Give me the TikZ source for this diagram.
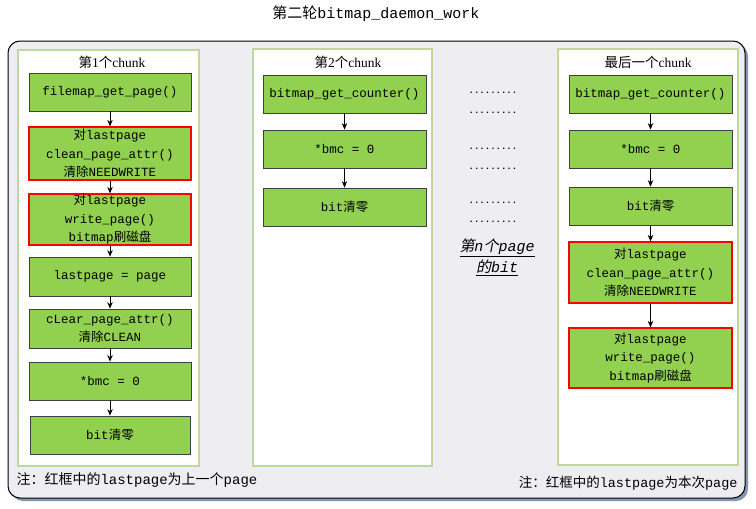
\documentclass[tikz,border=0pt]{standalone}
\usepackage{fontspec}
\setmainfont{Liberation Serif}
\setmonofont{Liberation Mono}
\newfontfamily\cjk{Noto Sans CJK SC}
\newfontfamily\cjkslant{Noto Sans CJK SC}[FakeSlant=0.2]
\newcommand{\zh}[1]{{\cjk #1}}
\usetikzlibrary{arrows.meta, positioning}

\definecolor{boxgreen}{HTML}{92D050}
\definecolor{panelline}{HTML}{C3D69B}
\definecolor{outerfill}{HTML}{EEEEF2}
\definecolor{shadowblue}{HTML}{8496B0}

\tikzset{
  opbox/.style={draw=black!75, fill=boxgreen, line width=0.8pt, minimum width=162pt,
    inner sep=0pt, align=center, font=\fontsize{12.5}{18.5}\selectfont\ttfamily},
  lastbox/.style={opbox, draw=red, line width=1.3pt},
  panel/.style={draw=panelline, line width=1.3pt, fill=white, inner sep=0pt},
  flow/.style={-{Stealth[length=6.5pt,width=5.5pt]}, line width=0.9pt},
  dotrow/.style={font=\fontsize{9}{9}\selectfont\ttfamily\bfseries},
}

\begin{document}
\begin{tikzpicture}[x=1pt,y=-1pt]
\useasboundingbox (0,0) rectangle (756,509);
\node[font=\fontsize{15}{15}\selectfont\ttfamily] (title) at (376,14) {\zh{第二轮}bitmap\_daemon\_work};

% outer frame
\fill[shadowblue, rounded corners=12pt] (11,44) rectangle (748,501);
\draw[fill=outerfill, line width=1pt, rounded corners=12pt] (8,41) rectangle (745,498);

% chunk panels
\node[panel, minimum width=181pt, minimum height=416pt] (p1) at (108.5,258) {};
\node[panel, minimum width=179pt, minimum height=417pt] (p2) at (342.5,257.5) {};
\node[panel, minimum width=180pt, minimum height=416pt] (p3) at (648,257) {};
\node[font=\fontsize{13.5}{13.5}\selectfont] (t1) at (112,62) {\zh{第}1\zh{个}chunk};
\node[font=\fontsize{13.5}{13.5}\selectfont] (t2) at (348,62) {\zh{第}2\zh{个}chunk};
\node[font=\fontsize{13.5}{13.5}\selectfont] (t3) at (648,62) {\zh{最后一个}chunk};

% first chunk
\node[opbox, minimum height=38pt] (c1a) at (110,92) {filemap\_get\_page()};
\node[lastbox, minimum height=53pt] (c1b) at (110,153.5) {\zh{对}lastpage\\clean\_page\_attr()\\\zh{清除}NEEDWRITE};
\node[lastbox, minimum height=51pt] (c1c) at (110,219.5) {\zh{对}lastpage\\write\_page()\\bitmap\zh{刷磁盘}};
\node[opbox, minimum height=39pt] (c1d) at (110,276.5) {lastpage = page};
\node[opbox, minimum height=39pt] (c1e) at (110,328.5) {cLear\_page\_attr()\\\zh{清除}CLEAN};
\node[opbox, minimum height=38pt] (c1f) at (110,381) {*bmc = 0};
\node[opbox, minimum height=38pt, minimum width=160pt] (c1g) at (110,435) {bit\zh{清零}};

% second chunk
\node[opbox, minimum width=163pt, minimum height=38pt] (c2a) at (344.5,94) {bitmap\_get\_counter()};
\node[opbox, minimum width=163pt, minimum height=38pt] (c2b) at (344.5,149) {*bmc = 0};
\node[opbox, minimum width=163pt, minimum height=38pt] (c2c) at (344.5,207) {bit\zh{清零}};

% last chunk
\node[opbox, minimum width=163pt, minimum height=38pt] (c3a) at (650.5,94.5) {bitmap\_get\_counter()};
\node[opbox, minimum width=163pt, minimum height=38pt] (c3b) at (650.5,149) {*bmc = 0};
\node[opbox, minimum width=163pt, minimum height=38pt] (c3c) at (650.5,206) {bit\zh{清零}};
\node[lastbox, minimum width=163pt, minimum height=61pt] (c3d) at (650.5,272.5) {\zh{对}lastpage\\clean\_page\_attr()\\\zh{清除}NEEDWRITE};
\node[lastbox, minimum width=163pt, minimum height=60pt] (c3e) at (650.5,358) {\zh{对}lastpage\\write\_page()\\bitmap\zh{刷磁盘}};

\foreach \a/\b in {c1a/c1b, c1b/c1c, c1c/c1d, c1d/c1e, c1e/c1f, c1f/c1g,
                   c2a/c2b, c2b/c2c, c3a/c3b, c3b/c3c, c3c/c3d, c3d/c3e}
  \draw[flow] (\a) -- (\b);

% chunks in between
\foreach \y in {93,113,149,169,203,222}
  \node[dotrow] (dots\y) at (493,\y) {.........};
\node[align=center, font=\fontsize{15}{21}\selectfont\ttfamily\itshape] (nth) at (497,257)
  {\underline{{\cjkslant 第}n{\cjkslant 个}page}\\\underline{{\cjkslant 的}bit}};

% notes
\node[anchor=west, font=\fontsize{14}{14}\selectfont\ttfamily] (note1) at (13,480) {\zh{注：红框中的}lastpage\zh{为上一个}page};
\node[anchor=east, font=\fontsize{13.5}{13.5}\selectfont\ttfamily] (note2) at (741,483) {\zh{注：红框中的}lastpage\zh{为本次}page};
\end{tikzpicture}
\end{document}
